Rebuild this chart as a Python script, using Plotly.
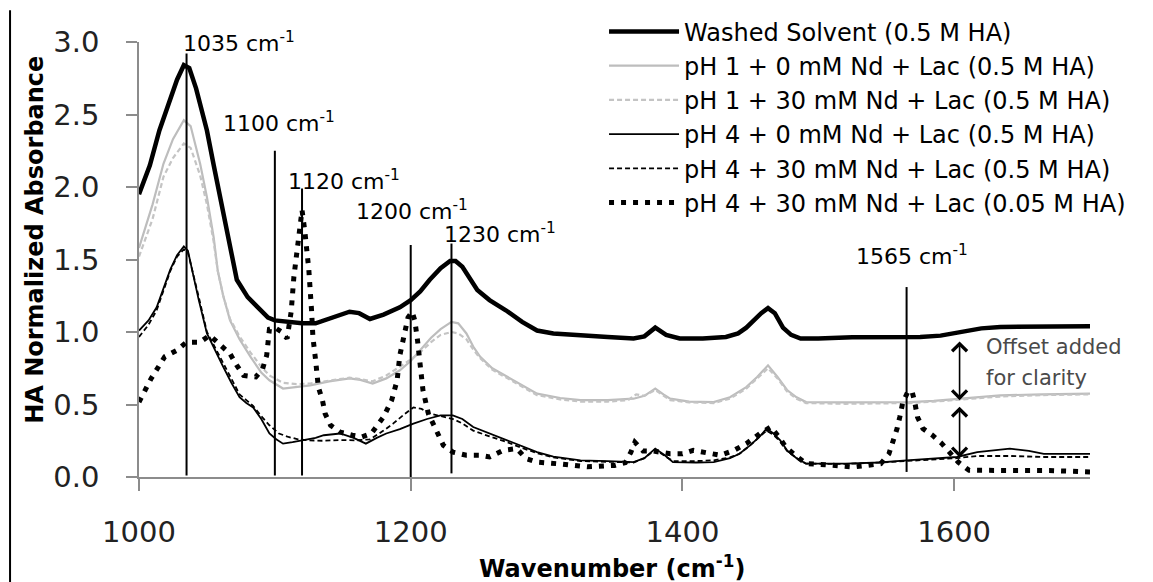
import plotly.graph_objects as go

# ---------------- data ----------------
washed_x = [1000, 1008, 1015, 1022, 1028, 1033, 1037, 1042, 1050, 1055, 1061, 1066, 1072, 1080, 1089, 1095,
            1100, 1111, 1120, 1130, 1142, 1155, 1162, 1170, 1180, 1192, 1200, 1207, 1214, 1222, 1229, 1233,
            1238, 1244, 1249, 1258, 1270, 1282, 1293, 1305, 1325, 1345, 1364, 1372, 1380, 1388, 1398, 1415,
            1432, 1441, 1447, 1452, 1458, 1463, 1468, 1474, 1480, 1487, 1500, 1525, 1575, 1590, 1604, 1620,
            1634, 1660, 1700]
washed_y = [1.95, 2.15, 2.39, 2.58, 2.74, 2.84, 2.82, 2.68, 2.39, 2.15, 1.86, 1.62, 1.36, 1.24, 1.15, 1.10,
            1.08, 1.07, 1.06, 1.06, 1.10, 1.14, 1.13, 1.09, 1.12, 1.17, 1.22, 1.28, 1.36, 1.44, 1.49, 1.49,
            1.45, 1.37, 1.29, 1.22, 1.15, 1.07, 1.01, 0.99, 0.975, 0.965, 0.955, 0.97, 1.03, 0.98, 0.955, 0.955,
            0.966, 0.99, 1.03, 1.08, 1.13, 1.165, 1.13, 1.03, 0.98, 0.955, 0.955, 0.963, 0.966, 0.975, 1.00, 1.025,
            1.035, 1.04, 1.04]

ph1_0_x = [1000, 1010, 1018, 1025, 1033, 1038, 1045, 1050, 1055, 1058, 1062, 1067, 1074, 1082, 1090, 1096,
           1106, 1116, 1126, 1140, 1155, 1163, 1172, 1182, 1192, 1200, 1207, 1215, 1222, 1230, 1235, 1241,
           1246, 1251, 1260, 1271, 1282, 1293, 1310, 1325, 1345, 1364, 1372, 1380, 1386, 1391, 1405, 1423,
           1435, 1447, 1455, 1463, 1470, 1477, 1484, 1491, 1520, 1550, 1567, 1585, 1604, 1634, 1665, 1700]
ph1_0_y = [1.58, 1.88, 2.16, 2.33, 2.46, 2.42, 2.16, 1.93, 1.65, 1.42, 1.25, 1.08, 0.95, 0.83, 0.72, 0.667,
           0.61, 0.62, 0.632, 0.66, 0.68, 0.67, 0.645, 0.68, 0.736, 0.80, 0.874, 0.96, 1.02, 1.07, 1.06, 0.99,
           0.90, 0.83, 0.75, 0.69, 0.63, 0.575, 0.545, 0.53, 0.53, 0.54, 0.56, 0.61, 0.57, 0.54, 0.52, 0.517,
           0.55, 0.62, 0.69, 0.77, 0.69, 0.60, 0.55, 0.517, 0.515, 0.517, 0.517, 0.525, 0.54, 0.563, 0.57, 0.575]

ph1_30_x = [1000, 1010, 1018, 1025, 1033, 1038, 1045, 1050, 1055, 1058, 1062, 1067, 1074, 1082, 1090, 1096,
            1106, 1116, 1126, 1140, 1155, 1163, 1172, 1182, 1192, 1200, 1207, 1215, 1222, 1230, 1235, 1241,
            1246, 1251, 1260, 1271, 1282, 1293, 1310, 1325, 1345, 1360, 1366, 1372, 1380, 1386, 1391, 1405,
            1423, 1435, 1447, 1455, 1463, 1470, 1477, 1484, 1491, 1520, 1550, 1567, 1585, 1604, 1634, 1665, 1700]
ph1_30_y = [1.52, 1.78, 2.07, 2.20, 2.30, 2.27, 2.08, 1.88, 1.62, 1.42, 1.25, 1.09, 0.97, 0.86, 0.76, 0.70,
            0.65, 0.64, 0.645, 0.665, 0.685, 0.675, 0.66, 0.70, 0.76, 0.81, 0.86, 0.93, 0.98, 1.00, 0.99, 0.95,
            0.88, 0.82, 0.74, 0.68, 0.62, 0.565, 0.535, 0.52, 0.52, 0.53, 0.57, 0.56, 0.60, 0.56, 0.53, 0.515,
            0.51, 0.54, 0.61, 0.68, 0.75, 0.68, 0.59, 0.54, 0.51, 0.505, 0.505, 0.51, 0.52, 0.535, 0.555, 0.565, 0.57]

ph4_0_x = [1000, 1007, 1013, 1018, 1023, 1028, 1033, 1036, 1039, 1044, 1050, 1056, 1062, 1068, 1074, 1079,
           1084, 1090, 1096, 1101, 1106, 1113, 1121, 1130, 1136, 1148, 1158, 1167, 1175, 1182, 1192, 1202,
           1212, 1222, 1231, 1238, 1246, 1258, 1271, 1282, 1293, 1305, 1325, 1345, 1364, 1372, 1380, 1387,
           1393, 1410, 1423, 1435, 1442, 1450, 1457, 1462, 1467, 1472, 1477, 1484, 1491, 1520, 1545, 1565,
           1585, 1602, 1617, 1641, 1655, 1666, 1700]
ph4_0_y = [1.01, 1.08, 1.17, 1.30, 1.43, 1.53, 1.59, 1.56, 1.43, 1.22, 0.99, 0.87, 0.76, 0.65, 0.55, 0.51,
           0.48, 0.40, 0.30, 0.26, 0.23, 0.24, 0.253, 0.27, 0.288, 0.30, 0.27, 0.23, 0.27, 0.30, 0.33, 0.368,
           0.40, 0.425, 0.425, 0.40, 0.345, 0.30, 0.253, 0.21, 0.172, 0.14, 0.115, 0.11, 0.103, 0.13, 0.196, 0.15,
           0.103, 0.10, 0.103, 0.13, 0.16, 0.22, 0.28, 0.334, 0.30, 0.253, 0.184, 0.13, 0.092, 0.092, 0.10, 0.115,
           0.125, 0.138, 0.172, 0.196, 0.18, 0.16, 0.16]

ph4_30_x = [1000, 1007, 1013, 1018, 1023, 1028, 1033, 1036, 1039, 1044, 1050, 1056, 1062, 1068, 1074, 1079,
            1084, 1090, 1096, 1103, 1110, 1117, 1125, 1135, 1148, 1160, 1170, 1180, 1187, 1195, 1202, 1208,
            1214, 1222, 1231, 1238, 1246, 1258, 1271, 1282, 1293, 1305, 1325, 1345, 1364, 1372, 1380, 1387,
            1393, 1410, 1423, 1435, 1442, 1450, 1457, 1462, 1467, 1472, 1477, 1484, 1491, 1520, 1545, 1565,
            1585, 1602, 1617, 1641, 1666, 1700]
ph4_30_y = [0.966, 1.05, 1.15, 1.28, 1.42, 1.52, 1.57, 1.55, 1.44, 1.24, 1.00, 0.89, 0.78, 0.67, 0.57, 0.53,
            0.49, 0.42, 0.357, 0.30, 0.276, 0.26, 0.253, 0.25, 0.255, 0.253, 0.26, 0.32, 0.368, 0.43, 0.48, 0.47,
            0.437, 0.42, 0.40, 0.37, 0.32, 0.28, 0.24, 0.20, 0.165, 0.135, 0.11, 0.105, 0.10, 0.13, 0.19, 0.145,
            0.11, 0.11, 0.115, 0.135, 0.16, 0.22, 0.28, 0.32, 0.29, 0.245, 0.18, 0.13, 0.092, 0.09, 0.10, 0.112,
            0.12, 0.13, 0.145, 0.145, 0.138, 0.138]

ph4_30_low_x = [1000, 1009, 1019, 1028, 1035, 1045, 1052, 1060, 1067, 1072, 1077, 1086, 1091, 1094, 1096, 1100,
                1105, 1109, 1112, 1114, 1117, 1120, 1122, 1125, 1127, 1128, 1130, 1132, 1135, 1137, 1141, 1148,
                1157, 1164, 1171, 1180, 1186, 1190, 1192, 1195, 1198, 1201, 1203, 1205, 1207, 1209, 1213, 1218,
                1224, 1231, 1241, 1251, 1258, 1268, 1278, 1285, 1293, 1310, 1330, 1350, 1358, 1362, 1365, 1371,
                1378, 1391, 1400, 1408, 1419, 1428, 1438, 1447, 1457, 1465, 1471, 1476, 1483, 1491, 1505, 1518,
                1526, 1536, 1546, 1552, 1555, 1558, 1560, 1562, 1566, 1569, 1571, 1573, 1577, 1584, 1591, 1597,
                1603, 1611, 1630, 1650, 1670, 1700]
ph4_30_low_y = [0.517, 0.68, 0.83, 0.874, 0.93, 0.93, 0.977, 0.908, 0.85, 0.77, 0.70, 0.69, 0.747, 0.84, 1.02, 1.03,
                1.00, 0.955, 1.14, 1.38, 1.65, 1.84, 1.70, 1.43, 1.15, 0.966, 0.805, 0.62, 0.53, 0.437, 0.357, 0.31,
                0.288, 0.276, 0.30, 0.414, 0.53, 0.667, 0.84, 0.966, 1.10, 1.14, 1.08, 0.943, 0.76, 0.60, 0.437, 0.334,
                0.219, 0.172, 0.15, 0.15, 0.138, 0.184, 0.196, 0.127, 0.103, 0.09, 0.07, 0.08, 0.10, 0.17, 0.24, 0.18,
                0.18, 0.16, 0.16, 0.184, 0.17, 0.15, 0.184, 0.23, 0.30, 0.345, 0.276, 0.207, 0.15, 0.092, 0.085, 0.08,
                0.069, 0.08, 0.092, 0.16, 0.24, 0.334, 0.414, 0.506, 0.59, 0.59, 0.517, 0.414, 0.334, 0.288, 0.23, 0.16,
                0.103, 0.046, 0.045, 0.05, 0.045, 0.035]

series_names = ["Washed Solvent (0.5 M HA)",
                "pH 1 + 0 mM Nd + Lac (0.5 M HA)",
                "pH 1 + 30 mM Nd + Lac (0.5 M HA)",
                "pH 4 + 0 mM Nd + Lac (0.5 M HA)",
                "pH 4 + 30 mM Nd + Lac (0.5 M HA)",
                "pH 4 + 30 mM Nd + Lac (0.05 M HA)"]

# marked peak positions (vertical reference lines) and their labels
peak_pos = [1035, 1100, 1120, 1200, 1230, 1565]
peak_line_top = [2.92, 2.25, 1.99, 1.60, 1.61, 1.31]
peak_line_bottom = [0.01, 0.01, 0.01, 0.0, 0.025, 0.035]
peak_label_x = [1031, 1060, 1108, 1158, 1223, 1526]
peak_label_y = [3.0, 2.45, 2.05, 1.84, 1.68, 1.53]

# offset arrows
offset_arrow_x = 1604
offset_arrow_spans = [(0.945, 0.53), (0.495, 0.135)]
offset_text = ["Offset added", "for clarity"]
offset_text_y = [0.895, 0.68]

x_ticks = [1000, 1200, 1400, 1600]
y_ticks = [0.0, 0.5, 1.0, 1.5, 2.0, 2.5, 3.0]

# ---------------- figure ----------------
FONT = "DejaVu Sans"
fig = go.Figure()

styles = [
    dict(color="#000000", width=4.5, dash="solid"),
    dict(color="#BDBDBD", width=2.2, dash="solid"),
    dict(color="#C4C4C4", width=2.2, dash="5px,3px"),
    dict(color="#000000", width=1.8, dash="solid"),
    dict(color="#000000", width=1.8, dash="5px,3px"),
    dict(color="#000000", width=5, dash="5px,7px"),
]
data = [(washed_x, washed_y), (ph1_0_x, ph1_0_y), (ph1_30_x, ph1_30_y),
        (ph4_0_x, ph4_0_y), (ph4_30_x, ph4_30_y), (ph4_30_low_x, ph4_30_low_y)]

for (xs, ys), name, st in zip(data, series_names, styles):
    fig.add_trace(go.Scatter(x=xs, y=ys, mode="lines", name=name,
                             line=dict(color=st["color"], width=st["width"], dash=st["dash"])))

shapes = []
for xp, top, bot in zip(peak_pos, peak_line_top, peak_line_bottom):
    shapes.append(dict(type="line", xref="x", yref="y", x0=xp, x1=xp, y0=bot, y1=top,
                       line=dict(color="#000000", width=2)))
# page border on the left of the image
shapes.append(dict(type="line", xref="paper", yref="paper", x0=-0.1356, x1=-0.1356, y0=-0.25, y1=1.073,
                   line=dict(color="#000000", width=2)))

annotations = []
for xp, lx, ly in zip(peak_pos, peak_label_x, peak_label_y):
    annotations.append(dict(x=lx, y=ly, xref="x", yref="y", xanchor="left", yanchor="middle",
                            text=f"{xp} cm<sup>-1</sup>", showarrow=False,
                            font=dict(family=FONT, size=22, color="#000000")))
for (ytop, ybot) in offset_arrow_spans:
    annotations.append(dict(x=offset_arrow_x, y=ybot, ax=offset_arrow_x, ay=ytop,
                            xref="x", yref="y", axref="x", ayref="y", text="",
                            showarrow=True, arrowhead=4, startarrowhead=4, arrowside="end+start",
                            arrowsize=1.8, startarrowsize=1.8, arrowwidth=1.6, arrowcolor="#000000",
                            standoff=0, startstandoff=0))
for txt, ty in zip(offset_text, offset_text_y):
    annotations.append(dict(x=1622, y=ty, xref="x", yref="y", xanchor="left", yanchor="middle",
                            text=txt, showarrow=False,
                            font=dict(family=FONT, size=21, color="#4a4a4a")))
# axis titles
annotations.append(dict(x=-0.109, y=0.546, xref="paper", yref="paper", textangle=-90,
                        xanchor="center", yanchor="middle",
                        text="<b>HA Normalized Absorbance</b>", showarrow=False,
                        font=dict(family=FONT, size=24, color="#000000")))
annotations.append(dict(x=0.497, y=-0.2076, xref="paper", yref="paper",
                        xanchor="center", yanchor="middle",
                        text="<b>Wavenumber (cm<sup>-1</sup>)</b>", showarrow=False,
                        font=dict(family=FONT, size=24, color="#000000")))

fig.update_layout(
    width=1145, height=574,
    margin=dict(l=131, r=63, t=34, b=105, autoexpand=False),
    paper_bgcolor="#ffffff", plot_bgcolor="#ffffff",
    font=dict(family=FONT, color="#000000"),
    showlegend=True,
    legend=dict(x=0.489, y=1.075, xanchor="left", yanchor="top",
                font=dict(family=FONT, size=24, color="#000000"),
                bgcolor="rgba(0,0,0,0)", itemwidth=70, tracegroupgap=0,
                traceorder="normal"),
    shapes=shapes,
    annotations=annotations,
)
fig.update_xaxes(range=[1000, 1700], tickvals=x_ticks, ticktext=[str(t) for t in x_ticks],
                 showgrid=False, zeroline=False, showline=True, linecolor="#8c8c8c", linewidth=1.5,
                 ticks="outside", ticklen=12, tickcolor="#8c8c8c", tickwidth=1.5,
                 tickfont=dict(family=FONT, size=29, color="#222222"), ticklabelstandoff=16)
fig.update_yaxes(range=[0, 3], tickvals=y_ticks, ticktext=[f"{t:.1f}" for t in y_ticks],
                 showgrid=False, zeroline=False, showline=True, linecolor="#8c8c8c", linewidth=1.5,
                 ticks="outside", ticklen=11, tickcolor="#8c8c8c", tickwidth=1.5,
                 tickfont=dict(family=FONT, size=29, color="#222222"), ticklabelstandoff=21)

fig.write_html("out.html")
